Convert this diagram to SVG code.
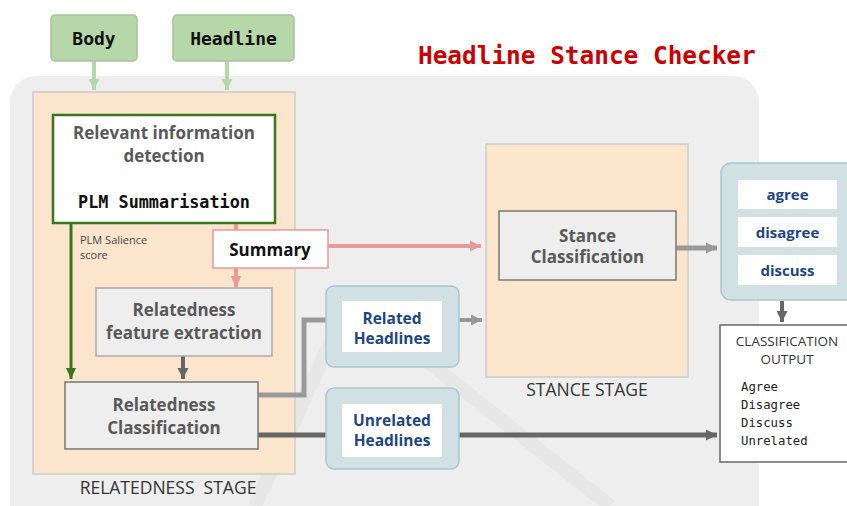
<svg xmlns="http://www.w3.org/2000/svg" width="847" height="506" viewBox="0 0 847 506">
<style>
.stage{fill:#fce5cd;stroke:#cccccc;stroke-width:1.5}
.gbox{fill:#eeeeee;stroke:#777777;stroke-width:1.5}
.gtxt{font-family:"Open Sans",sans-serif;font-weight:700;font-size:17px;fill:#595959;text-anchor:middle}
.btxt{font-family:"Open Sans",sans-serif;font-weight:700;font-size:15.5px;fill:#1c4587;text-anchor:middle}
.teal{fill:#d0e0e3;stroke:#a9c8cd;stroke-width:1.5}
.wbox{fill:#ffffff}
.mono{font-family:"DejaVu Sans Mono","Liberation Mono",monospace;font-weight:700}
.lbl{font-family:"Open Sans",sans-serif;font-size:17.5px;fill:#333333;text-anchor:middle;white-space:pre}
.inbox{fill:#b6d7a8;stroke:#a7c19b;stroke-width:1.5}
</style>
<defs>
<marker id="ag" markerWidth="12" markerHeight="12" refX="11" refY="6" orient="auto" markerUnits="userSpaceOnUse"><path d="M0,0.5 L11,6 L0,11.5 Z" fill="#999999"/></marker>
<marker id="ad" markerWidth="12" markerHeight="12" refX="11" refY="6" orient="auto" markerUnits="userSpaceOnUse"><path d="M0,0.5 L11,6 L0,11.5 Z" fill="#666666"/></marker>
<marker id="ap" markerWidth="12" markerHeight="12" refX="11" refY="6" orient="auto" markerUnits="userSpaceOnUse"><path d="M0,0.5 L11,6 L0,11.5 Z" fill="#ea9999"/></marker>
<marker id="agr" markerWidth="12" markerHeight="12" refX="11" refY="6" orient="auto" markerUnits="userSpaceOnUse"><path d="M0,1 L11,6 L0,11 Z" fill="#38761d"/></marker>
<marker id="alg" markerWidth="12" markerHeight="12" refX="11" refY="6" orient="auto" markerUnits="userSpaceOnUse"><path d="M0,0.5 L11,6 L0,11.5 Z" fill="#b6d7a8"/></marker>
</defs>

<rect id="background" x="10" y="76" width="749" height="460" rx="26" fill="#eeeeee"/>

<g id="watermark" fill="none" stroke="#dadada" stroke-width="14" opacity="0.35">
<path d="M255,506 L350,300 L610,506"/>
</g>

<text id="title" x="418" y="64" class="mono" font-size="24.4" fill="#cc0000">Headline Stance Checker</text>

<g id="relatedness-stage">
<rect x="33" y="92" width="262" height="382" class="stage"/>
<text x="168" y="494" class="lbl" xml:space="preserve">RELATEDNESS  STAGE</text>
</g>

<g id="stance-stage">
<rect x="486" y="144" width="202" height="233" class="stage"/>
<text x="587" y="396" class="lbl">STANCE STAGE</text>
</g>

<g id="connectors" fill="none">
<line x1="94" y1="61" x2="94" y2="90" stroke="#b6d7a8" stroke-width="4" marker-end="url(#alg)"/>
<line x1="227" y1="61" x2="227" y2="90" stroke="#b6d7a8" stroke-width="4" marker-end="url(#alg)"/>
<line x1="71" y1="223" x2="71" y2="379" stroke="#38761d" stroke-width="3" marker-end="url(#agr)"/>
<line x1="236" y1="223" x2="236" y2="231" stroke="#ea9999" stroke-width="4"/>
<line x1="236" y1="268" x2="236" y2="287" stroke="#ea9999" stroke-width="4" marker-end="url(#ap)"/>
<line x1="328" y1="246" x2="481" y2="246" stroke="#ea9999" stroke-width="4" marker-end="url(#ap)"/>
<line x1="183" y1="356" x2="183" y2="379" stroke="#666666" stroke-width="4" marker-end="url(#ad)"/>
<polyline points="258,395 304,395 304,320 327,320" stroke="#999999" stroke-width="5"/>
<line x1="459" y1="320" x2="482" y2="320" stroke="#999999" stroke-width="4" marker-end="url(#ag)"/>
<line x1="258" y1="435" x2="717" y2="435" stroke="#666666" stroke-width="5" marker-end="url(#ad)"/>
<line x1="676" y1="248" x2="717" y2="248" stroke="#999999" stroke-width="5" marker-end="url(#ag)"/>
<line x1="782" y1="301" x2="782" y2="322" stroke="#666666" stroke-width="4" marker-end="url(#ad)"/>
</g>

<g id="body">
<rect x="51" y="15" width="86" height="46" rx="4" class="inbox"/>
<text x="94" y="45" class="mono" font-size="18" fill="#111111" text-anchor="middle">Body</text>
</g>

<g id="headline">
<rect x="173" y="15" width="121" height="46" rx="4" class="inbox"/>
<text x="233.5" y="45" class="mono" font-size="18" fill="#111111" text-anchor="middle">Headline</text>
</g>

<g id="relevant-info">
<rect x="53" y="115" width="222" height="108" fill="#ffffff" stroke="#38761d" stroke-width="2.5"/>
<text x="164" y="139" class="gtxt">Relevant information</text>
<text x="164" y="162" class="gtxt">detection</text>
<text x="164" y="208" class="mono" font-size="16.8" fill="#111111" text-anchor="middle">PLM Summarisation</text>
</g>

<g id="salience-label">
<text x="80" y="244" font-family="'Open Sans',sans-serif" font-size="11" fill="#444444">PLM Salience</text>
<text x="80" y="259" font-family="'Open Sans',sans-serif" font-size="11" fill="#444444">score</text>
</g>

<g id="summary">
<rect x="213" y="230" width="115" height="38" fill="#ffffff" stroke="#ea9999" stroke-width="1.5"/>
<text x="270" y="256" class="gtxt" style="fill:#111111">Summary</text>
</g>

<g id="feature-extraction">
<rect x="96" y="288" width="176" height="68" class="gbox" style="stroke:#aaaaaa"/>
<text x="184" y="316" class="gtxt">Relatedness</text>
<text x="184" y="339" class="gtxt">feature extraction</text>
</g>

<g id="relatedness-classification">
<rect x="65" y="382" width="193" height="67" class="gbox"/>
<text x="164" y="411" class="gtxt">Relatedness</text>
<text x="164" y="434" class="gtxt">Classification</text>
</g>

<g id="related-headlines">
<rect x="326" y="286" width="133" height="81" rx="8" class="teal"/>
<rect x="342" y="301" width="100" height="51" class="wbox"/>
<text x="392" y="324" class="btxt">Related</text>
<text x="392" y="344" class="btxt">Headlines</text>
</g>

<g id="unrelated-headlines">
<rect x="326" y="388" width="133" height="81" rx="8" class="teal"/>
<rect x="342" y="404" width="100" height="53" class="wbox"/>
<text x="392" y="426" class="btxt">Unrelated</text>
<text x="392" y="446" class="btxt">Headlines</text>
</g>

<g id="stance-classification">
<rect x="499" y="211" width="177" height="69" class="gbox"/>
<text x="587.5" y="242" class="gtxt">Stance</text>
<text x="587.5" y="263" class="gtxt">Classification</text>
</g>

<g id="stance-labels">
<rect x="721" y="163" width="140" height="137" rx="10" class="teal"/>
<rect x="738" y="180" width="99" height="29" class="wbox"/>
<text x="787.5" y="200" class="btxt" style="font-size:15px">agree</text>
<rect x="738" y="217" width="99" height="30" class="wbox"/>
<text x="787.5" y="238" class="btxt" style="font-size:15px">disagree</text>
<rect x="738" y="255" width="99" height="30" class="wbox"/>
<text x="787.5" y="276" class="btxt" style="font-size:15px">discuss</text>
</g>

<g id="classification-output">
<rect x="720" y="325" width="140" height="137" fill="#ffffff" stroke="#666666" stroke-width="1.5"/>
<text x="787" y="346" font-family="'Open Sans',sans-serif" font-size="13.5" fill="#333333" text-anchor="middle">CLASSIFICATION</text>
<text x="787" y="364" font-family="'Open Sans',sans-serif" font-size="13.5" fill="#333333" text-anchor="middle">OUTPUT</text>
<g font-family="'DejaVu Sans Mono','Liberation Mono',monospace" font-size="12.3" fill="#222222">
<text x="741" y="391">Agree</text>
<text x="741" y="409">Disagree</text>
<text x="741" y="427">Discuss</text>
<text x="741" y="445">Unrelated</text>
</g>
</g>
</svg>
